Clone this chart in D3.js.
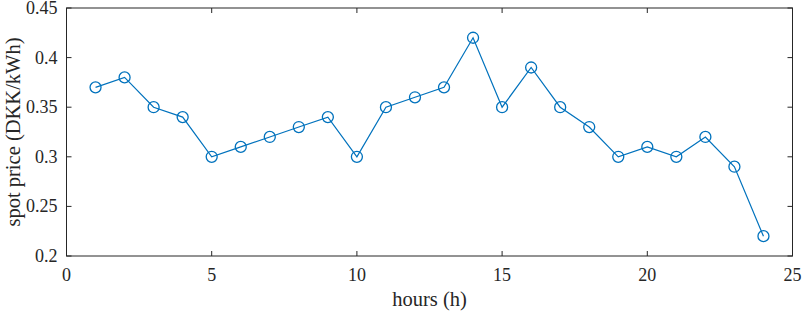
<!DOCTYPE html>
<html>
<head>
<meta charset="utf-8">
<script src="https://cdn.jsdelivr.net/npm/d3@7"></script>
<style>
  body { margin: 0; background: #fff; }
  text { font-family: "Liberation Serif", "Times New Roman", serif; fill: #262626; }
</style>
</head>
<body>
<svg id="chart" width="803" height="312"></svg>
<script>
const hours = [1,2,3,4,5,6,7,8,9,10,11,12,13,14,15,16,17,18,19,20,21,22,23,24];
const price = [0.37,0.38,0.35,0.34,0.30,0.31,0.32,0.33,0.34,0.30,0.35,0.36,0.37,0.42,0.35,0.39,0.35,0.33,0.30,0.31,0.30,0.32,0.29,0.22];
const xTicks = [0,5,10,15,20,25];
const yTicks = [0.2,0.25,0.3,0.35,0.4,0.45];

const margin = {left: 66.5, right: 10.5, top: 8, bottom: 56};
const svg = d3.select('#chart');
const W = 803, H = 312;
const x = d3.scaleLinear().domain([0,25]).range([margin.left, W - margin.right]);
const y = d3.scaleLinear().domain([0.2,0.45]).range([H - margin.bottom, margin.top]);

const axisColor = '#262626';
const tl = 5;

// box
svg.append('rect')
  .attr('x', x(0)).attr('y', y(0.45))
  .attr('width', x(25)-x(0)).attr('height', y(0.2)-y(0.45))
  .attr('fill', 'none').attr('stroke', axisColor).attr('stroke-width', 1);

// ticks (inward, all sides)
const g = svg.append('g').attr('stroke', axisColor).attr('stroke-width', 1);
xTicks.forEach(t => {
  g.append('line').attr('x1', x(t)).attr('x2', x(t)).attr('y1', y(0.2)).attr('y2', y(0.2)-tl);
  g.append('line').attr('x1', x(t)).attr('x2', x(t)).attr('y1', y(0.45)).attr('y2', y(0.45)+tl);
});
yTicks.forEach(t => {
  g.append('line').attr('x1', x(0)).attr('x2', x(0)+tl).attr('y1', y(t)).attr('y2', y(t));
  g.append('line').attr('x1', x(25)).attr('x2', x(25)-tl).attr('y1', y(t)).attr('y2', y(t));
});

svg.selectAll('.xl').data(xTicks).join('text')
  .attr('x', d => x(d)).attr('y', y(0.2) + 25)
  .attr('text-anchor', 'middle').attr('font-size', '18px')
  .text(d => d);
svg.selectAll('.yl').data(yTicks).join('text')
  .attr('x', x(0) - 9).attr('y', d => y(d) + 6)
  .attr('text-anchor', 'end').attr('font-size', '18px')
  .text(d => d);

svg.append('text').attr('x', (x(0)+x(25))/2).attr('y', 306)
  .attr('text-anchor', 'middle').attr('font-size', '20.5px').text('hours (h)');
svg.append('text')
  .attr('transform', `translate(19.5,${(y(0.2)+y(0.45))/2}) rotate(-90)`)
  .attr('text-anchor', 'middle').attr('font-size', '20.5px').text('spot price (DKK/kWh)');

const line = d3.line().x((d,i) => x(hours[i])).y(d => y(d));
svg.append('path').datum(price).attr('d', line)
  .attr('fill', 'none').attr('stroke', '#0072BD').attr('stroke-width', 1.2);
svg.selectAll('circle').data(price).join('circle')
  .attr('cx', (d,i) => x(hours[i])).attr('cy', d => y(d)).attr('r', 5.5)
  .attr('fill', 'none').attr('stroke', '#0072BD').attr('stroke-width', 1.3);
</script>
</body>
</html>
